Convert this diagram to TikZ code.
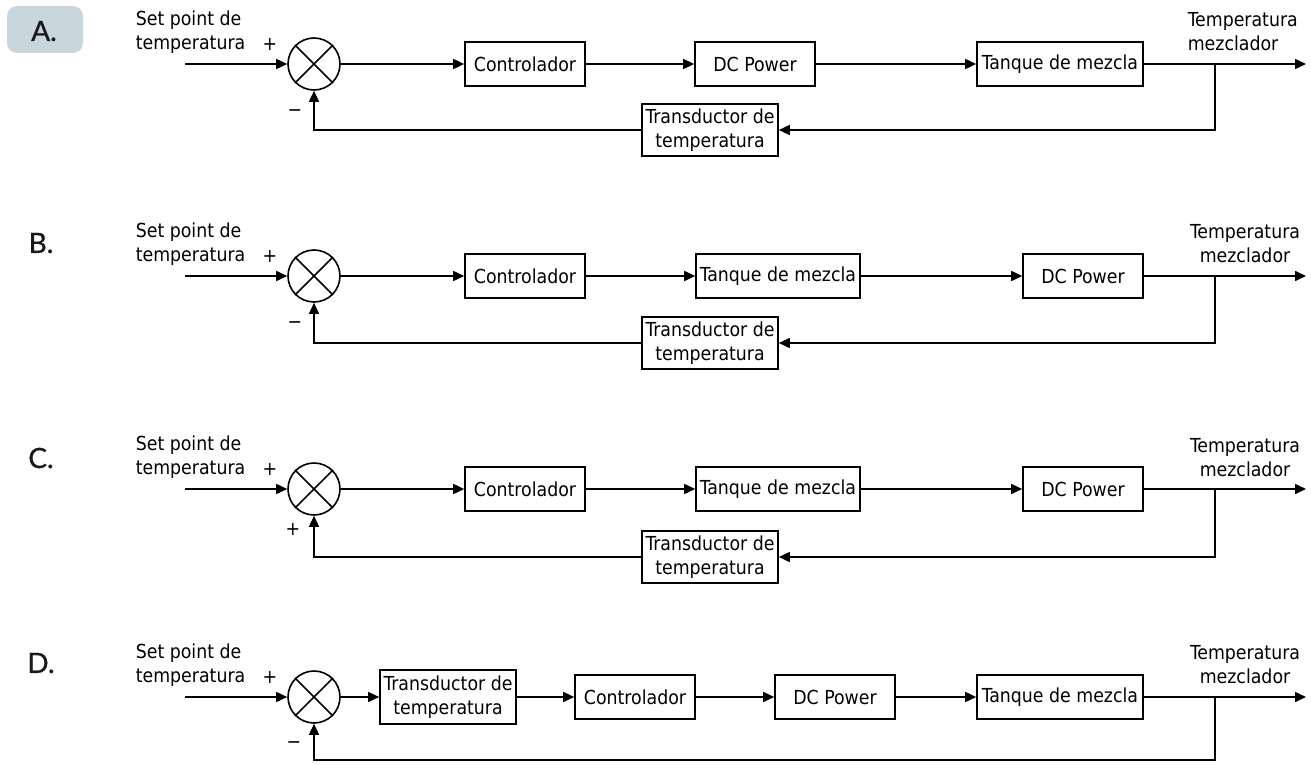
\documentclass[tikz,border=0pt]{standalone}
\usepackage{fontspec}
\setmainfont{DejaVu Sans Condensed}
\newfontfamily\labfont[FakeBold=0.8]{Lato}
\usetikzlibrary{arrows.meta}
\newcommand\dtxt{\fontsize{19.3}{24}\selectfont}
\newcommand\ltxt{\labfont\fontsize{28}{30}\selectfont}
\definecolor{labgrey}{RGB}{201,214,221}
\begin{document}
\begin{tikzpicture}[x=1pt,y=-1pt,line width=1.6pt,
  blk/.style={draw,minimum height=44pt,inner sep=1pt,font=\dtxt},
  blk2/.style={draw,minimum height=52pt,minimum width=136pt,inner sep=1pt,align=center,font=\dtxt},
  sumj/.style={draw,circle,minimum size=52pt,inner sep=0pt},
  lbl/.style={font=\dtxt,inner sep=0pt},
  sig/.style={font=\dtxt,inner sep=0pt},
  arr/.style={-{Triangle[length=11pt,width=10pt]}},
  letter/.style={font=\ltxt,inner sep=0pt,text=black!90}]
\useasboundingbox (0,0) rectangle (1311,765);

% ---------- A ----------
\fill[labgrey,rounded corners=10pt] (7,6) rectangle (83,53);
\node[letter] (la) at (44,31) {A.};
\begin{scope}[shift={(0,64)}]
\node[lbl,align=left,anchor=west] (ain) at (135,-32) {Set point de\\temperatura};
\node[sig] (aplus) at (270,-20) {+};
\node[sig] (aminus) at (295,49) {\textminus};
\coordinate (astart) at (185,0);
\node[sumj] (as) at (314,0) {};
\draw (as.north east) -- (as.south west) (as.north west) -- (as.south east);
\node[blk,minimum width=120pt] (ac) at (525,0) {Controlador};
\node[blk,minimum width=120pt] (ad) at (755,0) {DC Power};
\node[blk,minimum width=166pt] (at) at (1060,0) {Tanque de mezcla};
\node[blk2] (atr) at (710,66) {Transductor de\\temperatura};
\coordinate (aend) at (1306,0);
\coordinate (abr) at (1215,0);
\node[lbl,align=left,anchor=west] (aout) at (1187,-32) {Temperatura\\mezclador};
\draw[arr] (astart) -- (as.west);
\draw[arr] (as.east) -- (ac.west);
\draw[arr] (ac.east) -- (ad.west);
\draw[arr] (ad.east) -- (at.west);
\draw[arr] (at.east) -- (aend);
\draw[arr] (abr) |- (atr.east);
\draw[arr] (atr.west) -| (as.south);
\end{scope}

% ---------- B ----------
\node[letter] (lb) at (41,243) {B.};
\begin{scope}[shift={(0,276)}]
\node[lbl,align=left,anchor=west] (bin) at (135,-32) {Set point de\\temperatura};
\node[sig] (bplus) at (270,-20) {+};
\node[sig] (bminus) at (295,49) {\textminus};
\coordinate (bstart) at (185,0);
\node[sumj] (bs) at (314,0) {};
\draw (bs.north east) -- (bs.south west) (bs.north west) -- (bs.south east);
\node[blk,minimum width=120pt] (bc) at (525,0) {Controlador};
\node[blk,minimum width=164pt] (bt) at (778,0) {Tanque de mezcla};
\node[blk,minimum width=120pt] (bd) at (1083,0) {DC Power};
\node[blk2] (btr) at (710,67) {Transductor de\\temperatura};
\coordinate (bend) at (1306,0);
\coordinate (bbr) at (1215,0);
\node[lbl,align=center] (bout) at (1245,-32) {Temperatura\\mezclador};
\draw[arr] (bstart) -- (bs.west);
\draw[arr] (bs.east) -- (bc.west);
\draw[arr] (bc.east) -- (bt.west);
\draw[arr] (bt.east) -- (bd.west);
\draw[arr] (bd.east) -- (bend);
\draw[arr] (bbr) |- (btr.east);
\draw[arr] (btr.west) -| (bs.south);
\end{scope}

% ---------- C ----------
\node[letter] (lc) at (41,458) {C.};
\begin{scope}[shift={(0,489)}]
\node[lbl,align=left,anchor=west] (cin) at (135,-32) {Set point de\\temperatura};
\node[sig] (cplus) at (270,-20) {+};
\node[sig] (cplus2) at (293,40) {+};
\coordinate (cstart) at (185,0);
\node[sumj] (cs) at (314,0) {};
\draw (cs.north east) -- (cs.south west) (cs.north west) -- (cs.south east);
\node[blk,minimum width=120pt] (cc) at (525,0) {Controlador};
\node[blk,minimum width=164pt] (ct) at (778,0) {Tanque de mezcla};
\node[blk,minimum width=120pt] (cd) at (1083,0) {DC Power};
\node[blk2] (ctr) at (710,68) {Transductor de\\temperatura};
\coordinate (cend) at (1306,0);
\coordinate (cbr) at (1215,0);
\node[lbl,align=center] (cout) at (1245,-31) {Temperatura\\mezclador};
\draw[arr] (cstart) -- (cs.west);
\draw[arr] (cs.east) -- (cc.west);
\draw[arr] (cc.east) -- (ct.west);
\draw[arr] (ct.east) -- (cd.west);
\draw[arr] (cd.east) -- (cend);
\draw[arr] (cbr) |- (ctr.east);
\draw[arr] (ctr.west) -| (cs.south);
\end{scope}

% ---------- D ----------
\node[letter] (ld) at (41,663) {D.};
\begin{scope}[shift={(0,697)}]
\node[lbl,align=left,anchor=west] (din) at (135,-32) {Set point de\\temperatura};
\node[sig] (dplus) at (270,-20) {+};
\node[sig] (dminus) at (294,48) {\textminus};
\coordinate (dstart) at (185,0);
\node[sumj] (ds) at (314,0) {};
\draw (ds.north east) -- (ds.south west) (ds.north west) -- (ds.south east);
\node[blk2,minimum height=54pt] (dtr) at (448,0) {Transductor de\\temperatura};
\node[blk,minimum width=120pt] (dc) at (635,0) {Controlador};
\node[blk,minimum width=120pt] (dd) at (835,0) {DC Power};
\node[blk,minimum width=166pt] (dt) at (1060,0) {Tanque de mezcla};
\coordinate (dend) at (1306,0);
\coordinate (dbr) at (1215,0);
\coordinate (dlow) at (1215,63);
\node[lbl,align=center] (dout) at (1245,-32) {Temperatura\\mezclador};
\draw[arr] (dstart) -- (ds.west);
\draw[arr] (ds.east) -- (dtr.west);
\draw[arr] (dtr.east) -- (dc.west);
\draw[arr] (dc.east) -- (dd.west);
\draw[arr] (dd.east) -- (dt.west);
\draw[arr] (dt.east) -- (dend);
\draw[arr] (dbr) -- (dlow) -| (ds.south);
\end{scope}
\end{tikzpicture}
\end{document}
